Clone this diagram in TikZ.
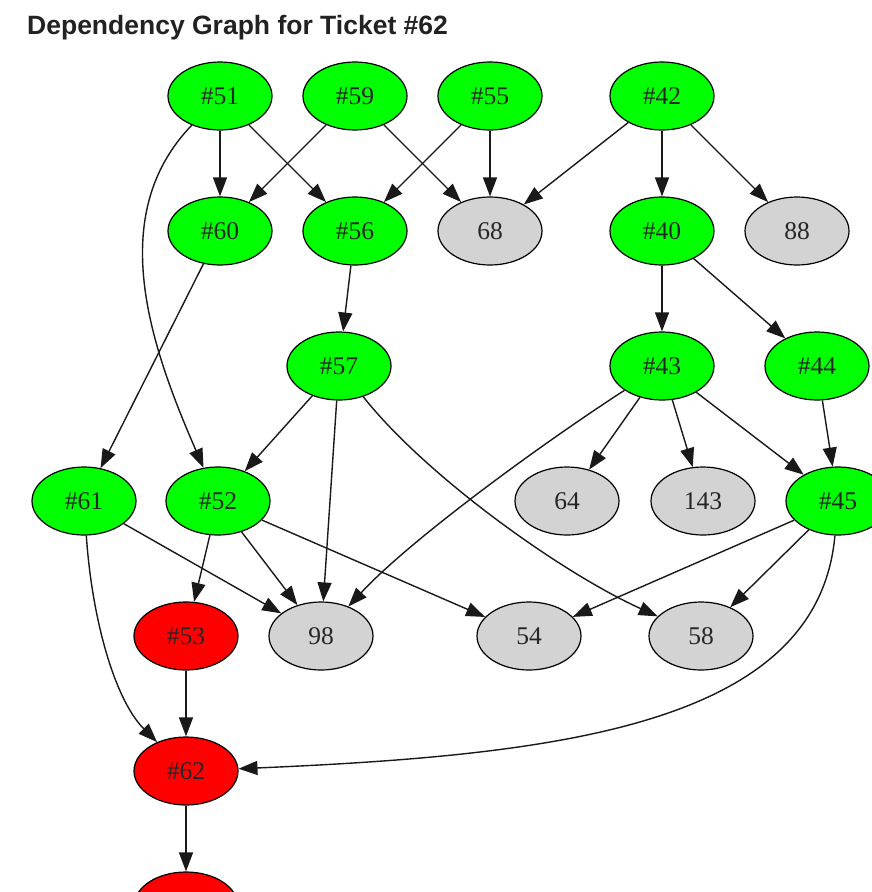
\documentclass[tikz,border=0pt]{standalone}
\usepackage{fontspec}
\setmainfont{Liberation Serif}
\newfontfamily\titlefont{Liberation Sans}
\usetikzlibrary{arrows.meta,shapes.geometric}
\definecolor{gnode}{HTML}{00FF00}
\definecolor{graynode}{HTML}{D3D3D3}
\definecolor{rnode}{HTML}{FF0000}
\definecolor{titlecol}{HTML}{222222}
\begin{document}
\begin{tikzpicture}[x=1pt,y=-1pt,
  basenode/.style={ellipse, draw=black, line width=1.2pt, minimum width=104pt,
    minimum height=68pt, inner sep=0pt, text=black!85,
    font=\fontsize{25.5}{25.5}\selectfont},
  gn/.style={basenode, fill=gnode},
  gy/.style={basenode, fill=graynode},
  rd/.style={basenode, fill=rnode},
  edge/.style={line width=1.4pt, draw=black!90, -{Triangle[length=19pt,width=14pt]}},
]
\useasboundingbox (0,0) rectangle (872,892);
\fill[white] (0,0) rectangle (872,892);
\clip (0,0) rectangle (872,892);

\node[anchor=base west, inner sep=0pt, text=titlecol,
  font=\titlefont\bfseries\fontsize{26.5}{26.5}\selectfont] (title) at (27,34)
  {Dependency Graph for Ticket \#62};

% row 1
\node[gn] (n51) at (220,96) {\#51};
\node[gn] (n59) at (355,96) {\#59};
\node[gn] (n55) at (490,96) {\#55};
\node[gn] (n42) at (662,96) {\#42};
% row 2
\node[gn] (n60) at (220,231) {\#60};
\node[gn] (n56) at (355,231) {\#56};
\node[gy] (n68) at (490,231) {68};
\node[gn] (n40) at (662,231) {\#40};
\node[gy] (n88) at (797,231) {88};
% row 3
\node[gn] (n57) at (339,366) {\#57};
\node[gn] (n43) at (662,366) {\#43};
\node[gn] (n44) at (817,366) {\#44};
% row 4
\node[gn] (n61) at (84,501) {\#61};
\node[gn] (n52) at (218,501) {\#52};
\node[gy] (n64) at (567,501) {64};
\node[gy] (n143) at (703,501) {143};
\node[gn] (n45) at (838,501) {\#45};
% row 5
\node[rd] (n53) at (186,636) {\#53};
\node[gy] (n98) at (321,636) {98};
\node[gy] (n54) at (529,636) {54};
\node[gy] (n58) at (701,636) {58};
% row 6
\node[rd] (n62) at (186,771) {\#62};
% row 7 (cut off)
\node[rd] (nbot) at (186,906) {};

% edges
\draw[edge] (n51) -- (n60);
\draw[edge] (n51) -- (n56);
\draw[edge] (n51) .. controls (105,215) and (150,345) .. (n52);
\draw[edge] (n59) -- (n60);
\draw[edge] (n59) -- (n68);
\draw[edge] (n55) -- (n56);
\draw[edge] (n55) -- (n68);
\draw[edge] (n42) -- (n68);
\draw[edge] (n42) -- (n40);
\draw[edge] (n42) -- (n88);
\draw[edge] (n60) -- (n61);
\draw[edge] (n56) -- (n57);
\draw[edge] (n40) -- (n43);
\draw[edge] (n40) -- (n44);
\draw[edge] (n57) -- (n52);
\draw[edge] (n57) -- (n98);
\draw[edge] (n57) .. controls (425,475) and (560,572) .. (n58);
\draw[edge] (n43) .. controls (540,445) and (410,540) .. (n98);
\draw[edge] (n43) -- (n64);
\draw[edge] (n43) -- (n143);
\draw[edge] (n43) -- (n45);
\draw[edge] (n44) -- (n45);
\draw[edge] (n61) -- (n98);
\draw[edge] (n61) .. controls (92,620) and (115,700) .. (n62);
\draw[edge] (n52) -- (n53);
\draw[edge] (n52) -- (n98);
\draw[edge] (n52) -- (n54);
\draw[edge] (n45) -- (n54);
\draw[edge] (n45) -- (n58);
\draw[edge] (n45) .. controls (818,725) and (560,755) .. (n62);
\draw[edge] (n53) -- (n62);
\draw[edge] (n62) -- (nbot);
\end{tikzpicture}
\end{document}
